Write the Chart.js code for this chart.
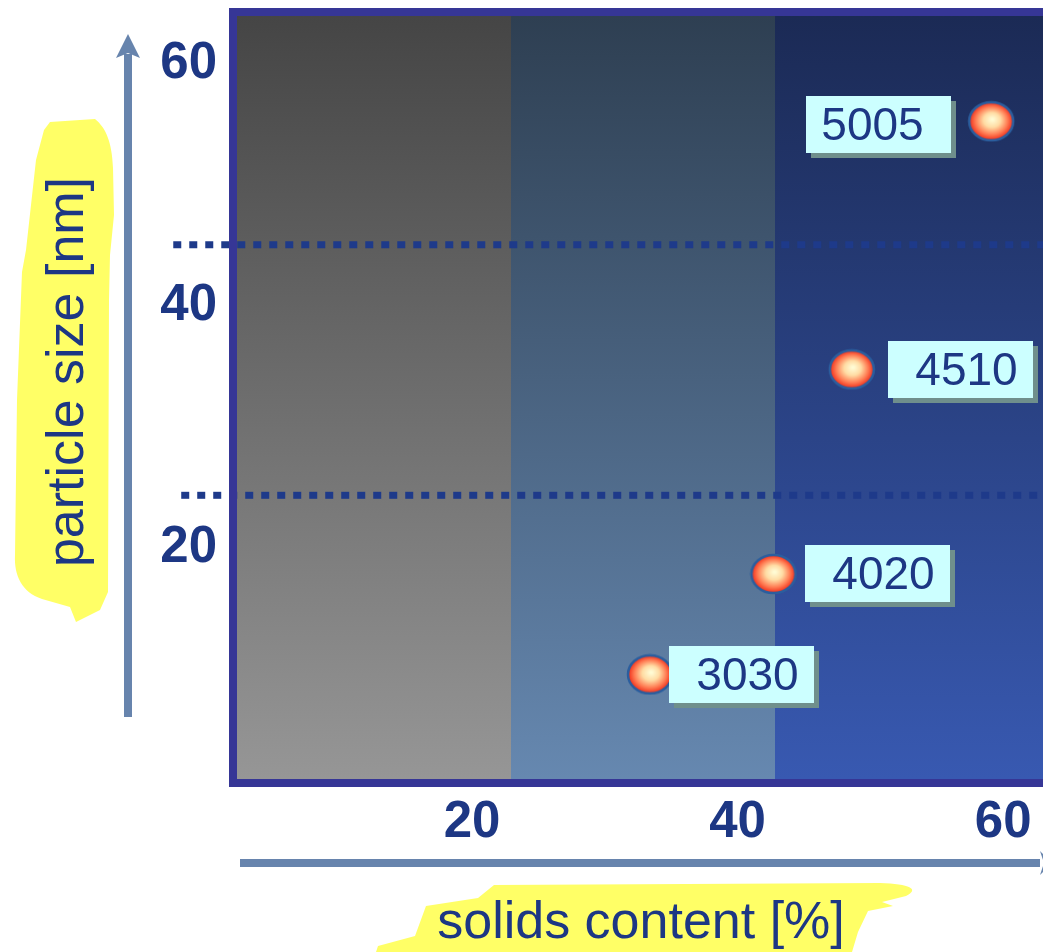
<!DOCTYPE html>
<html>
<head>
<meta charset="utf-8">
<title>Particle size vs. solids content</title>
<script src="https://cdn.jsdelivr.net/npm/chart.js@4.4.1/dist/chart.umd.min.js"></script>
<style>
  html, body { margin: 0; padding: 0; background: #ffffff; overflow: hidden; }
  #wrap { position: relative; width: 1043px; height: 952px; }
</style>
</head>
<body>
<div id="wrap"><canvas id="chart" width="1043" height="952"></canvas></div>
<script>
// ---- data ----
const gradeNames    = ['5005', '4510', '4020', '3030'];
const solidsContent = [59.1, 48.6, 42.7, 33.4];   // %
const particleSize  = [55.0, 34.5, 17.6, 9.3];    // nm
const xTicks = [20, 40, 60];
const yTicks = [20, 40, 60];
const xRange = [2.3, 63.0];
const yRange = [0.66, 63.7];
// solids-content limits of the three shaded zones
const zoneEdges = [2.3, 22.9, 42.8, 63.0];
// particle-size limits shown as dotted guide lines, and where each guide begins
const sizeLimits = [44.8, 24.1];
const guideStart = [-2.5, -1.9];

// ---- styling ----
const FONT = "'Liberation Sans', Arial, Helvetica, sans-serif";
const NAVY = '#1d3784';
const zoneColors = [
  ['#454545', '#969696'],
  ['#2e3f52', '#6688b0'],
  ['#1b2a55', '#3859b1']
];
// distance (px) between each bead and its name box
const boxGap = [40, 36, 32, 19];

function makeBead() {
  const c = document.createElement('canvas');
  c.width = 48; c.height = 42;
  const g = c.getContext('2d');
  g.save();
  g.translate(24, 21);
  g.scale(22 / 19, 1);
  const grd = g.createRadialGradient(1, -2, 1, 0, 0, 19);
  grd.addColorStop(0, '#fffbd4');
  grd.addColorStop(0.35, '#ffdca4');
  grd.addColorStop(0.72, '#ff7a52');
  grd.addColorStop(1, '#ee2a18');
  g.beginPath();
  g.arc(0, 0, 19, 0, Math.PI * 2);
  g.fillStyle = grd;
  g.fill();
  g.restore();
  g.beginPath();
  g.ellipse(24, 21, 22, 19, 0, 0, Math.PI * 2);
  g.lineWidth = 2.5;
  g.strokeStyle = '#2b5e9e';
  g.stroke();
  return c;
}

// shaded zones behind the data
const zonesPlugin = {
  id: 'zones',
  beforeDatasetsDraw(chart) {
    const { ctx, chartArea: a, scales: { x } } = chart;
    ctx.save();
    for (let i = 0; i < zoneEdges.length - 1; i++) {
      const l = x.getPixelForValue(zoneEdges[i]);
      const r = x.getPixelForValue(zoneEdges[i + 1]);
      const grd = ctx.createLinearGradient(0, a.top, 0, a.bottom);
      grd.addColorStop(0, zoneColors[i][0]);
      grd.addColorStop(1, zoneColors[i][1]);
      ctx.fillStyle = grd;
      ctx.fillRect(Math.round(l), a.top, Math.round(r) - Math.round(l), a.bottom - a.top);
    }
    ctx.restore();
  }
};

// frame of the plot area and the value boxes
const framePlugin = {
  id: 'frame',
  afterDatasetsDraw(chart) {
    const { ctx, chartArea: a } = chart;
    ctx.save();
    ctx.strokeStyle = '#363696';
    ctx.lineWidth = 8;
    ctx.strokeRect(a.left - 4, a.top - 4, a.right - a.left + 40, a.bottom - a.top + 8);

    const meta = chart.getDatasetMeta(2);
    ctx.font = '46px ' + FONT;
    ctx.textAlign = 'center';
    ctx.textBaseline = 'middle';
    meta.data.forEach((pt, i) => {
      const w = 145, h = 57, gap = boxGap[i];
      let left = pt.x + gap, shift = 6, dy = 0;
      if (left + w + 6 > a.right) { left = pt.x - gap - w; shift = -6; dy = 3; }
      const top = Math.round(pt.y - h / 2 + dy);
      left = Math.round(left);
      ctx.fillStyle = '#6f8f8c';
      ctx.fillRect(left + 5, top + 5, w, h);
      ctx.fillStyle = '#ccffff';
      ctx.fillRect(left, top, w, h);
      ctx.fillStyle = NAVY;
      ctx.fillText(gradeNames[i], left + w / 2 + shift, top + h / 2 + 3);
    });
    ctx.restore();
  }
};

// x tick labels, placed by the x scale (the last one may reach the page edge)
const xLabelsPlugin = {
  id: 'xLabels',
  afterDraw(chart) {
    const { ctx, scales: { x } } = chart;
    ctx.save();
    ctx.fillStyle = NAVY;
    ctx.font = 'bold 51px ' + FONT;
    ctx.textAlign = 'center';
    ctx.textBaseline = 'alphabetic';
    xTicks.forEach(v => ctx.fillText(String(v), x.getPixelForValue(v), 837));
    ctx.restore();
  }
};

// axis arrows and highlighted axis titles
const titlesPlugin = {
  id: 'titles',
  afterDraw(chart) {
    const ctx = chart.ctx;
    ctx.save();
    // arrows
    ctx.fillStyle = '#6784ad';
    ctx.fillRect(124, 54, 8, 663);
    ctx.beginPath();
    ctx.moveTo(128, 34); ctx.lineTo(140, 58); ctx.lineTo(128, 53); ctx.lineTo(116, 58);
    ctx.closePath(); ctx.fill();
    ctx.fillRect(240, 859, 800, 8);
    ctx.beginPath();
    ctx.moveTo(1052, 863); ctx.lineTo(1040, 851); ctx.lineTo(1044, 863); ctx.lineTo(1040, 875);
    ctx.closePath(); ctx.fill();

    // highlighter marks
    ctx.fillStyle = '#ffff66';
    ctx.beginPath();
    ctx.moveTo(44, 130); ctx.lineTo(50, 122); ctx.lineTo(95, 119);
    ctx.bezierCurveTo(106, 128, 112, 142, 113, 168);
    ctx.lineTo(114, 215); ctx.lineTo(110, 255); ctx.lineTo(109, 300);
    ctx.lineTo(108, 592); ctx.lineTo(100, 610); ctx.lineTo(76, 622);
    ctx.lineTo(70, 607); ctx.lineTo(42, 599);
    ctx.bezierCurveTo(22, 592, 14, 576, 15, 555);
    ctx.lineTo(17, 400); ctx.lineTo(22, 272); ctx.lineTo(26, 250);
    ctx.lineTo(36, 160); ctx.closePath(); ctx.fill();

    ctx.beginPath();
    ctx.moveTo(378, 946); ctx.lineTo(415, 936); ctx.lineTo(426, 906);
    ctx.lineTo(478, 898); ctx.lineTo(494, 885); ctx.lineTo(880, 883);
    ctx.bezierCurveTo(910, 884, 920, 889, 906, 896);
    ctx.lineTo(882, 902); ctx.lineTo(893, 906); ctx.lineTo(868, 911);
    ctx.lineTo(858, 932); ctx.lineTo(852, 952); ctx.lineTo(376, 952);
    ctx.closePath(); ctx.fill();

    // titles
    ctx.fillStyle = NAVY;
    ctx.font = '52px ' + FONT;
    ctx.textAlign = 'center';
    ctx.textBaseline = 'alphabetic';
    ctx.fillText('solids content [%]', 641, 938);
    ctx.translate(83, 372);
    ctx.rotate(-Math.PI / 2);
    ctx.fillText('particle size [nm]', 0, 0);
    ctx.restore();
  }
};

const guideSets = sizeLimits.map((v, i) => ({
  type: 'line',
  data: [{ x: guideStart[i], y: v }, { x: xRange[1] + 2, y: v }],
  borderColor: '#1e3a8a',
  borderWidth: 7,
  borderDash: [8, 8],
  borderCapStyle: 'butt',
  pointRadius: 0,
  fill: false,
  clip: false,
  order: 2
}));

// no extra room around the plot for overhanging tick labels
function noOverhang(s) {
  s.paddingLeft = 0; s.paddingRight = 0; s.paddingTop = 0; s.paddingBottom = 0;
}

new Chart(document.getElementById('chart'), {
  type: 'scatter',
  data: {
    datasets: [
      ...guideSets,
      {
        type: 'scatter',
        label: 'grades',
        data: solidsContent.map((x, i) => ({ x, y: particleSize[i] })),
        pointStyle: makeBead(),
        pointRadius: 22,
        pointHoverRadius: 22,
        clip: false,
        order: 1
      }
    ]
  },
  options: {
    responsive: false,
    animation: false,
    events: [],
    layout: { autoPadding: false, padding: { top: 16, left: 0, right: 0, bottom: 0 } },
    plugins: { legend: { display: false }, tooltip: { enabled: false } },
    scales: {
      x: {
        type: 'linear',
        min: xRange[0], max: xRange[1],
        grid: { display: false },
        border: { display: false },
        afterBuildTicks: s => { s.ticks = xTicks.map(v => ({ value: v })); },
        afterFit: s => { s.height = 952 - 779; noOverhang(s); },
        ticks: { display: false }
      },
      y: {
        type: 'linear',
        min: yRange[0], max: yRange[1],
        grid: { display: false },
        border: { display: false },
        afterBuildTicks: s => { s.ticks = yTicks.map(v => ({ value: v })); },
        afterFit: s => { s.width = 237; noOverhang(s); },
        ticks: {
          color: NAVY,
          font: { family: FONT, size: 51, weight: 'bold' },
          padding: 12,
          labelOffset: 3
        }
      }
    }
  },
  plugins: [zonesPlugin, framePlugin, xLabelsPlugin, titlesPlugin]
});
</script>
</body>
</html>
